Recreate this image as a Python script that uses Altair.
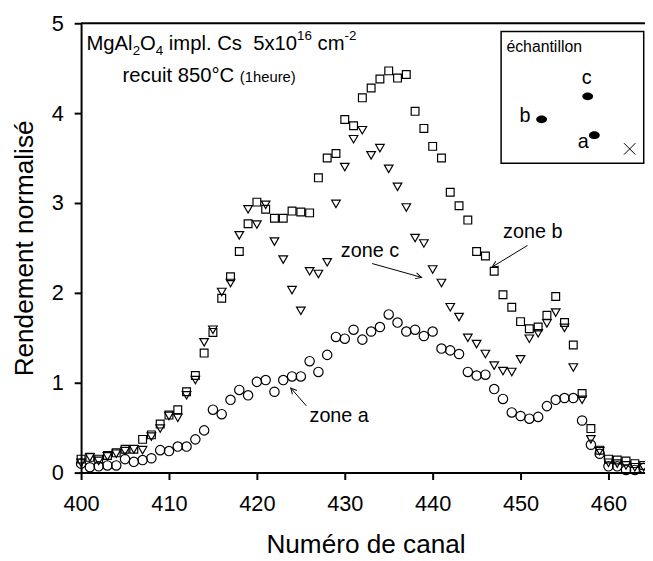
import math
import altair as alt
import pandas as pd

# ---------------- data ----------------
channels = list(range(400, 465))

# zone a (circles)
zone_a = [0.10, 0.06, 0.07, 0.08, 0.08, 0.15, 0.12, 0.14, 0.16, 0.25,
          0.24, 0.29, 0.29, 0.37, 0.47, 0.70, 0.65, 0.81, 0.92, 0.86,
          1.01, 1.03, 0.90, 1.03, 1.07, 1.07, 1.24, 1.12, 1.31, 1.51,
          1.49, 1.59, 1.48, 1.57, 1.62, 1.76, 1.67, 1.57, 1.59, 1.52,
          1.57, 1.38, 1.36, 1.32, 1.12, 1.08, 1.09, 0.93, 0.82, 0.67,
          0.63, 0.60, 0.62, 0.74, 0.81, 0.83, 0.83, 0.58, 0.31, 0.21,
          0.07, 0.07, 0.03, 0.03, 0.05]

# zone b (squares)
zone_b = [0.15, 0.17, 0.15, 0.19, 0.22, 0.26, 0.26, 0.37, 0.42, 0.54,
          0.64, 0.70, 0.90, 1.08, 1.33, 1.56, 1.94, 2.18, 2.46, 2.77,
          3.01, 2.93, 2.83, 2.83, 2.91, 2.90, 2.89, 3.28, 3.50, 3.55,
          3.93, 3.86, 4.17, 4.28, 4.38, 4.47, 4.39, 4.43, 4.02, 3.83,
          3.63, 3.50, 3.12, 2.97, 2.81, 2.46, 2.41, 2.24, 1.98, 1.84,
          1.68, 1.60, 1.62, 1.75, 1.96, 1.67, 1.42, 0.88, 0.49, 0.25,
          0.15, 0.14, 0.13, 0.10, 0.08]

# zone c (triangles)
zone_c = [0.11, 0.17, 0.13, 0.18, 0.21, 0.24, 0.26, 0.25, 0.40, 0.49,
          0.63, 0.61, 0.86, 1.03, 1.45, 1.59, 2.01, 2.11, 2.64, 2.93,
          2.76, 2.98, 2.57, 2.37, 2.03, 1.80, 2.24, 2.21, 2.34, 2.99,
          3.40, 3.71, 3.81, 3.53, 3.61, 3.38, 3.18, 2.95, 2.61, 2.55,
          2.26, 2.11, 1.84, 1.73, 1.50, 1.43, 1.32, 1.19, 1.13, 1.12,
          1.26, 1.49, 1.55, 1.66, 1.78, 1.61, 1.17, 0.81, 0.37, 0.24,
          0.11, 0.10, 0.08, 0.06, 0.06]

series_names = ["zone b", "zone c", "zone a"]
x_ticks = [400, 410, 420, 430, 440, 450, 460]
y_ticks = [0, 1, 2, 3, 4, 5]

# ---------------- layout ----------------
FONT = "Liberation Sans"
W, H = 571, 455
PX_PER_CH = 8.9
X_MAX = 400 + W / PX_PER_CH

rows = []
for name, vals in zip(series_names, [zone_b, zone_c, zone_a]):
    for c, v in zip(channels, vals):
        rows.append({"canal": c, "val": v, "serie": name})
df = pd.DataFrame(rows)

x_scale = alt.Scale(domain=[400, X_MAX], nice=False, zero=False)
y_scale = alt.Scale(domain=[0, 5], nice=False)

axis_common = dict(
    labelFont=FONT, labelFontSize=22, labelColor="black", labelFlush=False, labelOverlap=False,
    titleFont=FONT, titleFontSize=26.5, titleFontWeight="normal", titleColor="black",
    domainColor="black", domainWidth=2, tickColor="black", tickWidth=2,
    tickSize=7, grid=False,
)

points = alt.Chart(df).mark_point(filled=False, strokeWidth=1.2, color="black", opacity=1, clip=False).encode(
    x=alt.X("canal:Q", scale=x_scale,
            axis=alt.Axis(values=x_ticks, title="Numéro de canal", labelPadding=14, format="d",
                          titleX=288, titleY=81, titleAlign="center", titleBaseline="alphabetic",
                          **axis_common)),
    y=alt.Y("val:Q", scale=y_scale,
            axis=alt.Axis(values=y_ticks, title="Rendement normalisé", labelPadding=11, format="d",
                          titleX=-49, titleY=H / 2, titleAngle=270, titleAlign="center",
                          titleBaseline="alphabetic", **axis_common)),
    shape=alt.Shape("serie:N", scale=alt.Scale(domain=series_names,
                                               range=["square", "triangle-down", "circle"]), legend=None),
    size=alt.Size("serie:N", scale=alt.Scale(domain=series_names, range=[62, 90, 81]), legend=None),
)

# top frame line
top = alt.Chart(pd.DataFrame({"x0": [400], "x1": [X_MAX], "y": [5]})).mark_rule(
    color="black", strokeWidth=2).encode(
    x=alt.X("x0:Q", scale=x_scale), x2="x1:Q", y=alt.Y("y:Q", scale=y_scale))

# ---------------- annotation text layout (Arial-like advance widths) ----------------
ADV = {"M": .833, "g": .556, "A": .667, "l": .222, "O": .778, " ": .278, "i": .222, "m": .833,
       "p": .556, ".": .278, "C": .722, "s": .5, "x": .5, "c": .5, "-": .333, "r": .333,
       "e": .556, "u": .556, "t": .278, "°": .4, "(": .333, ")": .333, "h": .556}


def adv(s, fs):
    return sum(ADV.get(ch, .556) for ch in s) * fs


F, S = 20.5, 13.5
BASE1, BASE2 = 27.3, 59.3
# (text, font size, baseline shift, gap before in em of main font)
line1 = [("MgAl", F, 0, 0), ("2", S, 4.5, 0), ("O", F, 0, 0), ("4", S, 4.5, 0),
         ("impl. Cs", F, 0, 1), ("5x10", F, 0, 2), ("16", S, -10, 0),
         ("cm", F, 0, 1), ("-2", S, -10, 0)]
line2 = [("recuit 850°C", F, 0, 0), ("(1heure)", 15, 0, 1)]

ann_txt, ann_px, ann_py, ann_fs = [], [], [], []
for pieces, x, base in [(line1, 5.5, BASE1), (line2, 42.0, BASE2)]:
    for txt, fs, dy, gap in pieces:
        x += gap * ADV[" "] * F
        ann_txt.append(txt); ann_px.append(x); ann_py.append(base + dy); ann_fs.append(fs)
        x += adv(txt, fs)

ann_txt += ["zone c", "zone a", "zone b", "échantillon", "c", "b", "a"]
ann_px += [263, 231.3, 427.3, 430.7, 507, 444, 503]
ann_py += [236.7, 404, 217.3, 29.3, 61.7, 100, 126]
ann_fs += [20, 20, 20, 16, 20, 20, 20]
ann = pd.DataFrame({"txt": ann_txt, "px": ann_px, "py": ann_py, "fs": ann_fs})

texts = alt.Chart(ann).mark_text(align="left", baseline="alphabetic", font=FONT, color="black").encode(
    x=alt.X("px:Q", scale=None, axis=None),
    y=alt.Y("py:Q", scale=None, axis=None),
    text="txt:N",
    size=alt.Size("fs:Q", scale=None, legend=None),
)

# arrows: start (x0,y0) -> tip (x1,y1)
arr_x0 = [294.7, 228.0, 452.0]
arr_y0 = [243.3, 387.3, 225.0]
arr_x1 = [344.7, 212.3, 416.3]
arr_y1 = [257.3, 369.3, 246.7]
arr_ang = [(math.degrees(math.atan2(x1 - x0, -(y1 - y0))) + 360) % 360
           for x0, y0, x1, y1 in zip(arr_x0, arr_y0, arr_x1, arr_y1)]
arrows = pd.DataFrame({"x0": arr_x0, "y0": arr_y0, "x1": arr_x1, "y1": arr_y1, "ang": arr_ang})

arrow_lines = alt.Chart(arrows).mark_rule(color="black", strokeWidth=1).encode(
    x=alt.X("x0:Q", scale=None, axis=None), y=alt.Y("y0:Q", scale=None, axis=None),
    x2="x1:Q", y2="y1:Q")
arrow_heads = alt.Chart(arrows).mark_point(
    shape="M -0.5 1 L 0 0 L 0.5 1", filled=False, color="black", strokeWidth=1, size=144, opacity=1).encode(
    x=alt.X("x1:Q", scale=None, axis=None), y=alt.Y("y1:Q", scale=None, axis=None),
    angle=alt.Angle("ang:Q", scale=None))

# inset (sample sketch)
inset_box = alt.Chart(pd.DataFrame({"x0": [425.3], "x1": [569.7], "y0": [8.3], "y1": [141.7]})).mark_rect(
    fill="white", stroke="black", strokeWidth=1.5).encode(
    x=alt.X("x0:Q", scale=None, axis=None), x2="x1:Q",
    y=alt.Y("y0:Q", scale=None, axis=None), y2="y1:Q")

spots = alt.Chart(pd.DataFrame({"px": [513.0, 466.3, 519.7], "py": [74.0, 97.3, 113.3]})).mark_point(
    shape="M -1 0 A 1 0.72 0 1 1 1 0 A 1 0.72 0 1 1 -1 0 Z", filled=True, color="black",
    size=121, opacity=1).encode(
    x=alt.X("px:Q", scale=None, axis=None), y=alt.Y("py:Q", scale=None, axis=None))

cross = alt.Chart(pd.DataFrame({"px": [555.5], "py": [127.2]})).mark_point(
    shape="M -1 -1 L 1 1 M -1 1 L 1 -1", filled=False, color="black", strokeWidth=1,
    size=135, opacity=1).encode(
    x=alt.X("px:Q", scale=None, axis=None), y=alt.Y("py:Q", scale=None, axis=None))

chart = alt.layer(
    inset_box, points, top, arrow_lines, arrow_heads, spots, cross, texts
).properties(
    width=W, height=H,
    padding={"left": 74, "top": 12, "right": 0, "bottom": 83},
    autosize=alt.AutoSizeParams(type="none"),
).configure_view(stroke=None).configure(background="white")

chart.save("out.html", embed_options={"renderer": "svg", "actions": False})
